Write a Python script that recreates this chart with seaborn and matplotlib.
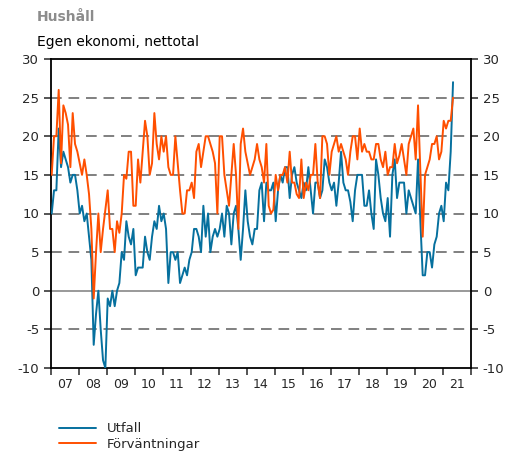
import numpy as np
import pandas as pd
import matplotlib
matplotlib.use("Agg")
import matplotlib.pyplot as plt
import seaborn as sns

# Hushåll - egen ekonomi, nettotal, monthly Jan 2007 - May 2021
utfall = [
    10, 13, 13, 21, 16, 18, 17, 16, 14, 15, 15, 13,       # 2007
    10, 11, 9, 10, 7, 4, -7, -3, 0, -5, -9, -10,          # 2008
    -1, -2, 0, -2, 0, 1, 5, 4, 9, 7, 6, 8,                # 2009
    2, 3, 3, 3, 7, 5, 4, 7, 9, 8, 11, 9,                  # 2010
    10, 8, 1, 5, 5, 4, 5, 1, 2, 3, 2, 4,                  # 2011
    5, 8, 8, 7, 5, 11, 7, 10, 5, 7, 8, 7,                 # 2012
    8, 10, 7, 11, 10, 6, 10, 11, 8, 4, 8, 13,             # 2013
    9, 7, 6, 8, 8, 13, 14, 9, 14, 13, 13, 14,             # 2014
    9, 13, 15, 14, 16, 16, 12, 15, 16, 14, 13, 12,        # 2015
    14, 13, 16, 13, 10, 14, 14, 12, 13, 17, 16, 14,       # 2016
    13, 14, 11, 14, 18, 14, 13, 13, 11.5, 9, 13, 15,      # 2017
    15, 15, 11, 11, 13, 10, 8, 17, 15, 12, 10, 9,         # 2018
    12, 7, 15, 17, 12, 14, 14, 14, 10, 13, 12, 11,        # 2019
    10, 17, 9, 2, 2, 5, 5, 3, 6, 7, 10, 11,               # 2020
    9, 14, 13, 18, 27,                                    # 2021
]
forvantningar = [
    15, 20, 20, 26, 16.5, 24, 23, 21.5, 16, 23, 19, 18,   # 2007
    16.5, 15, 17, 15, 12.5, 8, -1, 5, 10, 5, 8, 10.5,     # 2008
    13, 8, 8, 5, 9, 7.5, 10, 15, 14.5, 18, 18, 11,        # 2009
    11, 17, 14, 18, 22, 20, 15, 16.5, 23, 19, 17, 20,     # 2010
    18, 20, 16, 15, 15, 20, 16.5, 13, 10, 10, 13, 13,     # 2011
    14, 12, 18, 19, 16, 18, 20, 20, 19, 18, 16.5, 10,     # 2012
    20, 20, 15, 13, 11, 15, 19, 15, 8, 19, 21, 18,        # 2013
    16.5, 15, 16, 17, 19, 17, 16, 14, 19, 11, 10, 10.5,   # 2014
    15, 13, 15, 15, 16, 14, 18, 14, 14, 12.5, 12, 17,     # 2015
    12, 14, 13, 15, 15, 19, 14, 12, 20, 20, 19, 15,       # 2016
    18, 19, 20, 18, 19, 18, 17, 15, 18, 20, 20, 17,       # 2017
    21, 18, 19, 18, 18, 17, 17, 19, 19, 17, 16, 18,       # 2018
    15, 16, 16, 19, 16.5, 17.5, 19, 17, 15, 19, 20, 21,   # 2019
    17, 24, 15.5, 7, 15, 16, 17, 19, 19, 20, 17, 18,      # 2020
    22, 21, 22, 22, 25,                                   # 2021
]
series_names = ["Utfall", "Förväntningar"]
year_labels = ["07", "08", "09", "10", "11", "12", "13", "14",
               "15", "16", "17", "18", "19", "20", "21"]
first_year = 2007

n = len(utfall)
t = first_year + (np.arange(n) + 0.3) / 12
df = pd.DataFrame({
    "t": np.concatenate([t, t]),
    "value": utfall + forvantningar,
    "serie": [series_names[0]] * n + [series_names[1]] * n,
})

sns.set_style("ticks")
plt.rcParams["font.family"] = ["DejaVu Sans"]
plt.rcParams["axes.unicode_minus"] = False

fig = plt.figure(figsize=(5.22, 4.55), dpi=100)
ax = fig.add_axes([51 / 522, 1 - 368 / 455, 420 / 522, 309 / 455])

# grid lines
for y in [-5, 5, 10, 15, 20, 25]:
    ax.axhline(y, color="#808080", lw=1.4, ls=(0, (5.5, 3.5)), zorder=1)
ax.axhline(0, color="#999999", lw=1.4, zorder=1)

sns.lineplot(data=df, x="t", y="value", hue="serie", ax=ax,
             palette=["#06709e", "#ff4f00"], linewidth=1.4, zorder=3)

ax.set_xlim(first_year, first_year + len(year_labels))
ax.set_ylim(-10, 30)
ax.set_yticks(range(-10, 31, 5))
ax.set_xticks(range(first_year, first_year + len(year_labels) + 1))
ax.set_xticklabels([])
ax.set_xticks([first_year + i + 0.5 for i in range(len(year_labels))], minor=True)
ax.set_xticklabels(year_labels, minor=True)
ax.tick_params(axis="x", which="minor", length=0, labelsize=9, pad=7)
ax.tick_params(axis="x", which="major", length=5, width=1.1, direction="out")
ax.tick_params(axis="y", length=5, width=1.1, labelsize=9.5,
               left=True, right=True, labelleft=True, labelright=True)
ax.set_xlabel("")
ax.set_ylabel("")
for s in ax.spines.values():
    s.set_linewidth(1.3)
    s.set_color("black")

handles, labels = ax.get_legend_handles_labels()
ax.legend_.remove()
fig.legend(handles, labels, loc="upper left", bbox_to_anchor=(54 / 522, 1 - 417 / 455),
           frameon=False, fontsize=9.5, handlelength=2.8, handletextpad=0.8,
           labelspacing=0.2, borderaxespad=0)

fig.text(37 / 522, 1 - 17 / 455, "Hushåll", fontsize=10, fontweight="bold",
         color="#8c8c8c", va="center")
fig.text(37 / 522, 1 - 42 / 455, "Egen ekonomi, nettotal", fontsize=10,
         color="black", va="center")

fig.savefig("out.png", dpi=100)
